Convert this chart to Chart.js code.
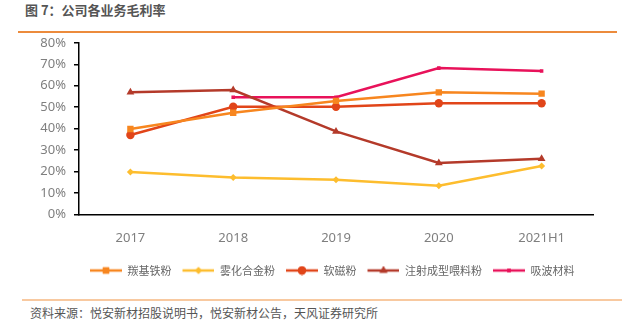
<!DOCTYPE html>
<html>
<head>
<meta charset="utf-8">
<script src="https://cdn.jsdelivr.net/npm/chart.js@4/dist/chart.umd.min.js"></script>
<style>
  body { margin: 0; background: #fff; width: 629px; height: 329px; position: relative; overflow: hidden;
         font-family: "Noto Sans CJK SC", "Noto Sans", sans-serif; }
  #title { position: absolute; left: 25px; top: 0px; font-size: 13px; font-weight: bold; color: #555; }
  #topline { position: absolute; left: 18px; top: 31px; width: 599px; height: 2px; background: #EC8B3C; }
  #chartBox { position: absolute; left: 0; top: 27px; width: 629px; height: 270px; }
  #botline { position: absolute; left: 22px; top: 299px; width: 600px; height: 2px; background: #F8C9A0; }
  #source { position: absolute; left: 30px; top: 304px; font-size: 12px; color: #555; }
</style>
</head>
<body>
<div id="title">图 7：公司各业务毛利率</div>
<div id="topline"></div>
<div id="chartBox"><canvas id="chart"></canvas></div>
<div id="botline"></div>
<div id="source">资料来源：悦安新材招股说明书，悦安新材公告，天风证券研究所</div>
<script>
// categories
const years = ['2017', '2018', '2019', '2020', '2021H1'];

// gross margin by business, %
const carbonylIron = [39.8, 47.4, 52.9, 56.9, 56.3];
const atomizedAlloy = [19.8, 17.2, 16.2, 13.4, 22.6];
const softMagnetic = [37.0, 50.2, 50.2, 51.8, 51.8];
const mimFeedstock = [56.9, 58.0, 38.7, 24.0, 26.0];
const absorbing = [null, 54.6, 54.6, 68.2, 66.9];

const seriesNames = ['羰基铁粉', '雾化合金粉', '软磁粉', '注射成型喂料粉', '吸波材料'];

// legend swatch: short line with the marker on top (blank lead-in on the left = gap to previous item)
function makeSwatch(color, style, r) {
    const c = document.createElement('canvas');
    c.width = 40; c.height = 10;
    const ctx = c.getContext('2d');
    ctx.strokeStyle = color; ctx.lineWidth = 2.5;
    ctx.beginPath(); ctx.moveTo(8, 5); ctx.lineTo(40, 5); ctx.stroke();
    ctx.fillStyle = color;
    Chart.helpers.drawPoint(ctx, { pointStyle: style, radius: r, borderWidth: 0 }, 24, 5);
    ctx.fill();
    return c;
}

function ds(label, data, color, style, r) {
    return {
        label: label,
        data: data,
        borderColor: color,
        backgroundColor: color,
        borderWidth: 2.5,
        pointStyle: style,
        pointRadius: r,
        pointHoverRadius: r,
        pointBorderWidth: 0,
        tension: 0,
        spanGaps: false,
        swatch: makeSwatch(color, style, r)
    };
}

const datasets = [
    ds(seriesNames[0], carbonylIron, '#F7861F', 'rect', 4.5),
    ds(seriesNames[1], atomizedAlloy, '#FDBD2E', 'rectRot', 3.5),
    ds(seriesNames[2], softMagnetic, '#E14519', 'circle', 4.2),
    ds(seriesNames[3], mimFeedstock, '#B43A2A', 'triangle', 4.5),
    ds(seriesNames[4], absorbing, '#E8125A', 'rect', 2.5)
];

new Chart(document.getElementById('chart'), {
    type: 'line',
    data: { labels: years, datasets: datasets },
    options: {
        responsive: true,
        maintainAspectRatio: false,
        animation: false,
        layout: { padding: { left: 0, right: 36, top: 0, bottom: 11 } },
        plugins: {
            tooltip: { enabled: false },
            legend: {
                position: 'bottom',
                fullSize: false,
                align: 'start',
                labels: {
                    usePointStyle: true,
                    pointStyleWidth: 40,
                    color: '#666',
                    font: { family: '"Noto Sans CJK SC", sans-serif', size: 11 },
                    padding: 3,
                    boxHeight: 10,
                    generateLabels: function (chart) {
                        return chart.data.datasets.map(function (d, i) {
                            return {
                                text: d.label,
                                pointStyle: d.swatch,
                                fillStyle: d.borderColor,
                                strokeStyle: d.borderColor,
                                lineWidth: 0,
                                fontColor: '#666',
                                datasetIndex: i,
                                hidden: false
                            };
                        });
                    }
                }
            }
        },
        scales: {
            x: {
                offset: true,
                grid: { display: false, drawTicks: false },
                border: { color: '#000', width: 1.5 },
                ticks: {
                    color: '#7f7f7f',
                    padding: 16,
                    font: { family: '"Noto Sans", sans-serif', size: 13 }
                }
            },
            y: {
                min: 0,
                max: 80,
                grid: { drawOnChartArea: false, drawTicks: true, tickLength: 5, color: '#000', lineWidth: 1.5 },
                border: { color: '#000', width: 1.5 },
                ticks: {
                    stepSize: 10,
                    color: '#7f7f7f',
                    padding: 8,
                    font: { family: '"Noto Sans", sans-serif', size: 13 },
                    callback: function (v) { return v + '%'; }
                },
                afterFit: function (scale) { scale.width = 79; }
            }
        }
    }
});
</script>
</body>
</html>
